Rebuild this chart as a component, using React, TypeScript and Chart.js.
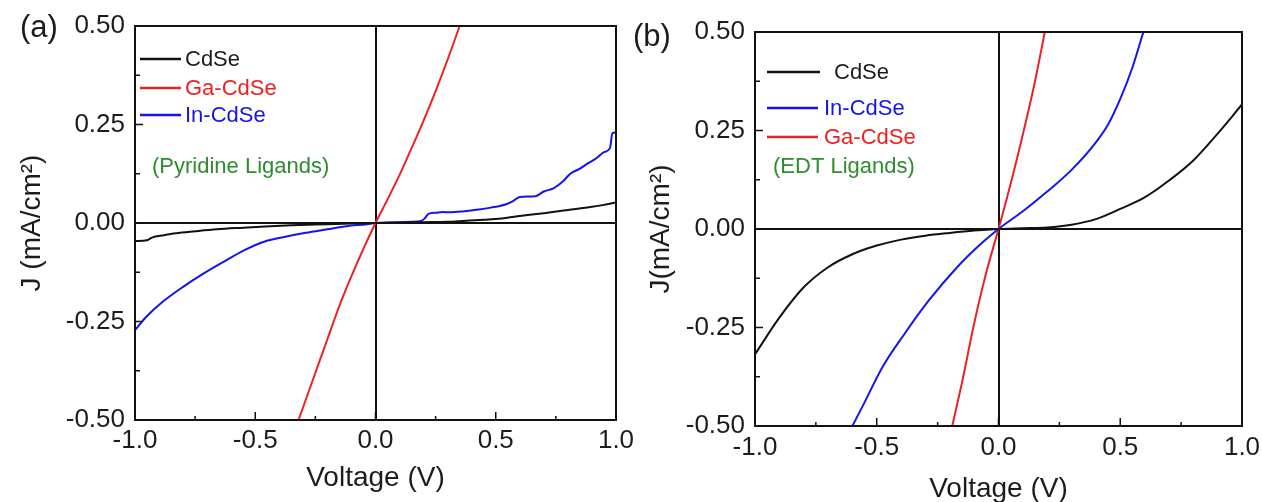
import React, { useEffect, useRef } from 'react';
import { Chart, registerables } from 'chart.js';

Chart.register(...registerables);

const FONT_FAMILY = '"Liberation Sans", Arial, Helvetica, sans-serif';
const TEXT = '#1c1c1c';
const BLACK = '#111111';
const RED = '#ec2121';
const BLUE = '#1414ee';
const GREEN = '#2e8b2e';

// ---- axis ticks ----
const xTickValues = [-1.0, -0.5, 0.0, 0.5, 1.0];
const yTickValues = [-0.5, -0.25, 0.0, 0.25, 0.5];

// ---- panel (a): pyridine ligands ----
const aCdSeV = [-1.0, -0.95, -0.93, -0.88, -0.83, -0.75, -0.66, -0.55, -0.46, -0.35, -0.2, -0.1, 0.0, 0.1, 0.2, 0.3, 0.377, 0.45, 0.5, 0.6, 0.7, 0.8, 0.9, 0.95, 1.0];
const aCdSeJ = [-0.046, -0.044, -0.037, -0.031, -0.026, -0.021, -0.016, -0.012, -0.009, -0.006, -0.003, -0.001, 0.0, 0.001, 0.002, 0.003, 0.006, 0.008, 0.010, 0.018, 0.025, 0.033, 0.041, 0.046, 0.052];

const aGaV = [-0.32, -0.25, -0.2, -0.15, -0.1, -0.05, 0.0, 0.05, 0.1, 0.15, 0.2, 0.25, 0.3, 0.35];
const aGaJ = [-0.50, -0.38, -0.295, -0.21, -0.135, -0.065, 0.0, 0.06, 0.122, 0.19, 0.26, 0.335, 0.415, 0.50];

const aInV = [-1.0, -0.953, -0.885, -0.8, -0.714, -0.63, -0.545, -0.46, -0.375, -0.29, -0.2, -0.12, -0.035, 0.0, 0.05, 0.1, 0.15, 0.19, 0.205, 0.22, 0.25, 0.28, 0.31, 0.37, 0.43, 0.48, 0.54, 0.57, 0.6, 0.665, 0.7, 0.74, 0.78, 0.81, 0.85, 0.88, 0.92, 0.95, 0.975, 0.985, 1.0];
const aInJ = [-0.272, -0.238, -0.2, -0.162, -0.128, -0.098, -0.069, -0.047, -0.035, -0.025, -0.016, -0.008, -0.003, 0.0, 0.001, 0.002, 0.003, 0.005, 0.012, 0.023, 0.026, 0.028, 0.027, 0.030, 0.034, 0.039, 0.047, 0.055, 0.066, 0.068, 0.080, 0.088, 0.106, 0.125, 0.138, 0.150, 0.165, 0.180, 0.190, 0.228, 0.23];

// ---- panel (b): EDT ligands ----
const bCdSeV = [-1.0, -0.9, -0.8, -0.7, -0.6, -0.5, -0.4, -0.3, -0.2, -0.1, 0.0, 0.1, 0.2, 0.3, 0.4, 0.5, 0.6, 0.7, 0.8, 0.9, 1.0];
const bCdSeJ = [-0.318, -0.225, -0.148, -0.097, -0.064, -0.042, -0.027, -0.017, -0.010, -0.004, 0.0, 0.002, 0.004, 0.011, 0.025, 0.051, 0.080, 0.123, 0.174, 0.242, 0.316];

const bInV = [-0.6, -0.55, -0.478, -0.387, -0.287, -0.17, -0.08, 0.0, 0.1, 0.2, 0.3, 0.4, 0.45, 0.5, 0.55, 0.595];
const bInJ = [-0.5, -0.44, -0.352, -0.267, -0.182, -0.097, -0.042, 0.0, 0.045, 0.095, 0.15, 0.22, 0.265, 0.33, 0.41, 0.5];

const bGaV = [-0.19, -0.15, -0.1, -0.05, 0.0, 0.05, 0.1, 0.15, 0.19];
const bGaJ = [-0.5, -0.39, -0.24, -0.11, 0.0, 0.115, 0.24, 0.375, 0.5];

type Series = { label: string; v: number[]; j: number[]; color: string };

const seriesA: Series[] = [
  { label: 'CdSe', v: aCdSeV, j: aCdSeJ, color: BLACK },
  { label: 'Ga-CdSe', v: aGaV, j: aGaJ, color: RED },
  { label: 'In-CdSe', v: aInV, j: aInJ, color: BLUE },
];

const seriesB: Series[] = [
  { label: 'CdSe', v: bCdSeV, j: bCdSeJ, color: BLACK },
  { label: 'In-CdSe', v: bInV, j: bInJ, color: BLUE },
  { label: 'Ga-CdSe', v: bGaV, j: bGaJ, color: RED },
];

const decorPlugin = {
  id: 'decor',
  afterDraw(chart: any, _args: any, opts: any) {
    const ctx = chart.ctx as CanvasRenderingContext2D;
    const { left, right, top, bottom } = chart.chartArea;
    const xs = chart.scales.x;
    const ys = chart.scales.y;
    ctx.save();
    ctx.strokeStyle = BLACK;
    ctx.lineWidth = 2;
    ctx.strokeRect(left, top, right - left, bottom - top);
    // inward ticks
    ctx.lineWidth = 1.5;
    for (let i = 1; i < 8; i++) {
      const v = -1 + i * 0.25;
      const px = xs.getPixelForValue(v);
      const len = i % 2 === 0 ? 8 : 4;
      ctx.beginPath();
      ctx.moveTo(px, bottom);
      ctx.lineTo(px, bottom - len);
      ctx.stroke();
    }
    for (let i = 1; i < 8; i++) {
      const v = -0.5 + i * 0.125;
      const py = ys.getPixelForValue(v);
      const len = i % 2 === 0 ? 8 : 5;
      ctx.beginPath();
      ctx.moveTo(left, py);
      ctx.lineTo(left + len, py);
      ctx.stroke();
    }
    // legend
    ctx.textBaseline = 'middle';
    ctx.textAlign = 'left';
    ctx.font = `22px ${FONT_FAMILY}`;
    (opts.items || []).forEach((it: any, i: number) => {
      const ds = chart.data.datasets[i];
      ctx.strokeStyle = ds.borderColor;
      ctx.lineWidth = 2.5;
      ctx.beginPath();
      ctx.moveTo(it.x1, it.y);
      ctx.lineTo(it.x2, it.y);
      ctx.stroke();
      ctx.fillStyle = ds.borderColor === BLACK ? TEXT : ds.borderColor;
      ctx.fillText(ds.label, it.tx, it.y + 1);
    });
    if (opts.note) {
      ctx.fillStyle = GREEN;
      ctx.fillText(opts.note.text, opts.note.x, opts.note.y);
    }
    if (opts.letter) {
      ctx.fillStyle = TEXT;
      ctx.font = `31px ${FONT_FAMILY}`;
      ctx.fillText(opts.letter.text, opts.letter.x, opts.letter.y);
    }
    ctx.restore();
  },
};

type PanelSpec = {
  series: Series[];
  yTitle: string;
  padRight: number;
  padTop: number;
  yAxisWidth: number;
  xAxisHeight: number;
  xTickPad: number;
  xTitlePad: number;
  yTitlePad: number;
  decor: any;
};

function makeConfig(p: PanelSpec): any {
  return {
    type: 'line',
    data: {
      datasets: p.series.map((s) => ({
        label: s.label,
        data: s.v.map((x, i) => ({ x, y: s.j[i] })),
        borderColor: s.color,
        backgroundColor: s.color,
        borderWidth: 2,
        pointRadius: 0,
        cubicInterpolationMode: 'monotone',
        fill: false,
      })),
    },
    options: {
      animation: false,
      responsive: true,
      maintainAspectRatio: false,
      events: [],
      layout: { padding: { left: 0, right: p.padRight, top: p.padTop, bottom: 0 } },
      plugins: {
        legend: { display: false },
        tooltip: { enabled: false },
        decor: p.decor,
      },
      scales: {
        x: {
          type: 'linear',
          min: -1,
          max: 1,
          afterBuildTicks: (s: any) => {
            s.ticks = xTickValues.map((value) => ({ value }));
          },
          afterFit: (s: any) => {
            s.height = p.xAxisHeight;
            s.paddingLeft = 0;
            s.paddingRight = 0;
          },
          ticks: {
            callback: (v: any) => Number(v).toFixed(1),
            font: { family: FONT_FAMILY, size: 26 },
            color: TEXT,
            padding: p.xTickPad,
            maxRotation: 0,
            autoSkip: false,
          },
          grid: {
            color: (c: any) => (c.tick && c.tick.value === 0 ? BLACK : 'rgba(0,0,0,0)'),
            lineWidth: 2,
            drawTicks: false,
          },
          border: { display: false },
          title: {
            display: true,
            text: 'Voltage (V)',
            font: { family: FONT_FAMILY, size: 28 },
            color: TEXT,
            padding: { top: 0, bottom: p.xTitlePad },
          },
        },
        y: {
          type: 'linear',
          min: -0.5,
          max: 0.5,
          afterBuildTicks: (s: any) => {
            s.ticks = yTickValues.map((value) => ({ value }));
          },
          afterFit: (s: any) => {
            s.width = p.yAxisWidth;
            s.paddingTop = 0;
            s.paddingBottom = 0;
          },
          ticks: {
            callback: (v: any) => Number(v).toFixed(2),
            font: { family: FONT_FAMILY, size: 26 },
            color: TEXT,
            padding: 10,
            autoSkip: false,
          },
          grid: {
            color: (c: any) => (c.tick && c.tick.value === 0 ? BLACK : 'rgba(0,0,0,0)'),
            lineWidth: 2,
            drawTicks: false,
          },
          border: { display: false },
          title: {
            display: true,
            text: p.yTitle,
            font: { family: FONT_FAMILY, size: 28 },
            color: TEXT,
            padding: { top: p.yTitlePad, bottom: 0 },
          },
        },
      },
    },
    plugins: [decorPlugin],
  };
}

const specA: PanelSpec = {
  series: seriesA,
  yTitle: 'J (mA/cm²)',
  padRight: 44,
  padTop: 26,
  yAxisWidth: 135,
  xAxisHeight: 82,
  xTickPad: 5,
  xTitlePad: 7,
  yTitlePad: 15,
  decor: {
    items: [
      { x1: 140, x2: 181, y: 59, tx: 185 },
      { x1: 140, x2: 181, y: 88, tx: 185 },
      { x1: 140, x2: 181, y: 115, tx: 185 },
    ],
    note: { text: '(Pyridine Ligands)', x: 152, y: 167 },
    letter: { text: '(a)', x: 20, y: 28 },
  },
};

const specB: PanelSpec = {
  series: seriesB,
  yTitle: 'J(mA/cm²)',
  padRight: 20,
  padTop: 32,
  yAxisWidth: 125,
  xAxisHeight: 76,
  xTickPad: 6,
  xTitlePad: -4,
  yTitlePad: 14,
  decor: {
    items: [
      { x1: 137, x2: 190, y: 72, tx: 204 },
      { x1: 137, x2: 188, y: 108, tx: 194 },
      { x1: 137, x2: 188, y: 137, tx: 194 },
    ],
    note: { text: '(EDT Ligands)', x: 143, y: 167 },
    letter: { text: '(b)', x: 3, y: 37 },
  },
};

function Panel({ spec, left, width }: { spec: PanelSpec; left: number; width: number }) {
  const ref = useRef<HTMLCanvasElement>(null);
  useEffect(() => {
    const chart = new Chart(ref.current as HTMLCanvasElement, makeConfig(spec));
    return () => chart.destroy();
  }, [spec]);
  return (
    <div style={{ position: 'absolute', left, top: 0, width, height: 502 }}>
      <canvas ref={ref} />
    </div>
  );
}

export default function App() {
  return (
    <div
      style={{
        position: 'fixed',
        left: 0,
        top: 0,
        width: 1262,
        height: 502,
        background: '#ffffff',
        overflow: 'hidden',
      }}
    >
      <Panel spec={specA} left={0} width={660} />
      <Panel spec={specB} left={630} width={632} />
    </div>
  );
}
